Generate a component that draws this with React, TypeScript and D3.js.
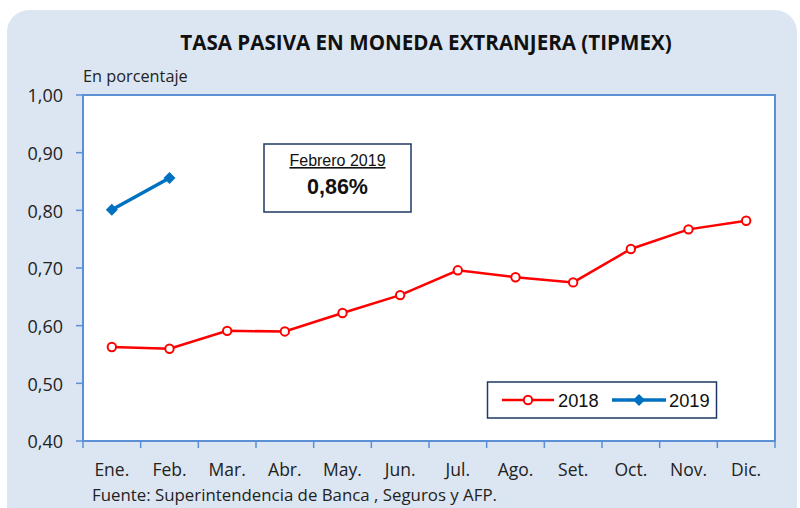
import React from "react";
import * as d3 from "d3";

const months = ["Ene.", "Feb.", "Mar.", "Abr.", "May.", "Jun.", "Jul.", "Ago.", "Set.", "Oct.", "Nov.", "Dic."];
const values2018 = [0.563, 0.56, 0.591, 0.59, 0.622, 0.653, 0.696, 0.684, 0.675, 0.733, 0.767, 0.782];
const values2019 = [0.801, 0.856];
const yTicks = [0.4, 0.5, 0.6, 0.7, 0.8, 0.9, 1.0];

const W = 800, H = 508;
const L = 83, R = 775, T = 95, B = 441;

export default function App() {
  const x = d3.scaleBand<string>().domain(months).range([L, R]);
  const y = d3.scaleLinear().domain([0.4, 1.0]).range([B, T]);
  const cx = (i: number) => (x(months[i]) as number) + x.bandwidth() / 2;
  const line = d3.line<number>().x((_, i) => cx(i)).y((d) => y(d));
  const axisColor = "#5b8fd6";
  const font = "'Open Sans', sans-serif";
  const arial = "Arial, 'Liberation Sans', sans-serif";
  const diamond = (px: number, py: number, s: number) =>
    `M${px},${py - s}L${px + s},${py}L${px},${py + s}L${px - s},${py}Z`;
  const tickXs = d3.range(months.length + 1).map((i) => L + i * x.step());
  return (
    <svg width={W} height={H} style={{ position: "absolute", left: 0, top: 0 }}>
      <rect x={0} y={0} width={W} height={H} fill="#ffffff" />
      <rect x={7} y={10} width={790} height={520} rx={22} ry={22} fill="#dce6f2" />
      <text x={426} y={50} textAnchor="middle" fontFamily={font} fontWeight="bold" fontSize={20.6} fill="#111">
        TASA PASIVA EN MONEDA EXTRANJERA (TIPMEX)
      </text>
      <text x={83} y={82} fontFamily={font} fontSize={16.3} fill="#222">En porcentaje</text>
      <rect x={L} y={T} width={R - L} height={B - T} fill="#ffffff" stroke={axisColor} strokeWidth={2} />
      {yTicks.map((t) => (
        <g key={t}>
          <line x1={L - 7} x2={L} y1={y(t)} y2={y(t)} stroke={axisColor} strokeWidth={1.5} />
          <text x={63} y={y(t)} dy="0.4em" textAnchor="end" fontFamily={font} fontSize={18} fill="#222">
            {d3.format(".2f")(t).replace(".", ",")}
          </text>
        </g>
      ))}
      {tickXs.map((tx, i) => (
        <line key={i} x1={tx} x2={tx} y1={B} y2={B + 7} stroke={axisColor} strokeWidth={1.5} />
      ))}
      {months.map((m, i) => (
        <text key={m} x={cx(i)} y={476} textAnchor="middle" fontFamily={font} fontSize={17.5} fill="#222">{m}</text>
      ))}
      <text x={92} y={501} fontFamily={font} fontSize={15.5} fill="#222" textLength={405} lengthAdjust="spacingAndGlyphs">
        Fuente: Superintendencia de Banca , Seguros y AFP.
      </text>
      <path d={line(values2018) || ""} fill="none" stroke="#ff0000" strokeWidth={2.5} />
      {values2018.map((v, i) => (
        <circle key={i} cx={cx(i)} cy={y(v)} r={4.2} fill="#fff" stroke="#ff0000" strokeWidth={2} />
      ))}
      <path d={line(values2019) || ""} fill="none" stroke="#0070c0" strokeWidth={3.5} />
      {values2019.map((v, i) => (
        <path key={i} d={diamond(cx(i), y(v), 6)} fill="#0070c0" />
      ))}
      <rect x={264} y={144} width={147} height={68} fill="#fff" stroke="#1f3864" strokeWidth={1.5} />
      <text x={337.5} y={166} textAnchor="middle" fontFamily={arial} fontSize={16} fill="#111" textDecoration="underline">
        Febrero 2019
      </text>
      <text x={337.5} y={194} textAnchor="middle" fontFamily={arial} fontWeight="bold" fontSize={21.5} fill="#111">
        0,86%
      </text>
      <rect x={487.5} y={382} width={229} height={36} fill="#fff" stroke="#1f3864" strokeWidth={1.5} />
      <line x1={502} x2={554} y1={400} y2={400} stroke="#ff0000" strokeWidth={2.5} />
      <circle cx={528} cy={400} r={4.2} fill="#fff" stroke="#ff0000" strokeWidth={2} />
      <text x={558} y={400} dy="0.36em" fontFamily={arial} fontSize={18.3} fill="#111">2018</text>
      <line x1={612} x2={666} y1={400} y2={400} stroke="#0070c0" strokeWidth={3.5} />
      <path d={diamond(639, 400, 6)} fill="#0070c0" />
      <text x={669} y={400} dy="0.36em" fontFamily={arial} fontSize={18.3} fill="#111">2019</text>
    </svg>
  );
}
